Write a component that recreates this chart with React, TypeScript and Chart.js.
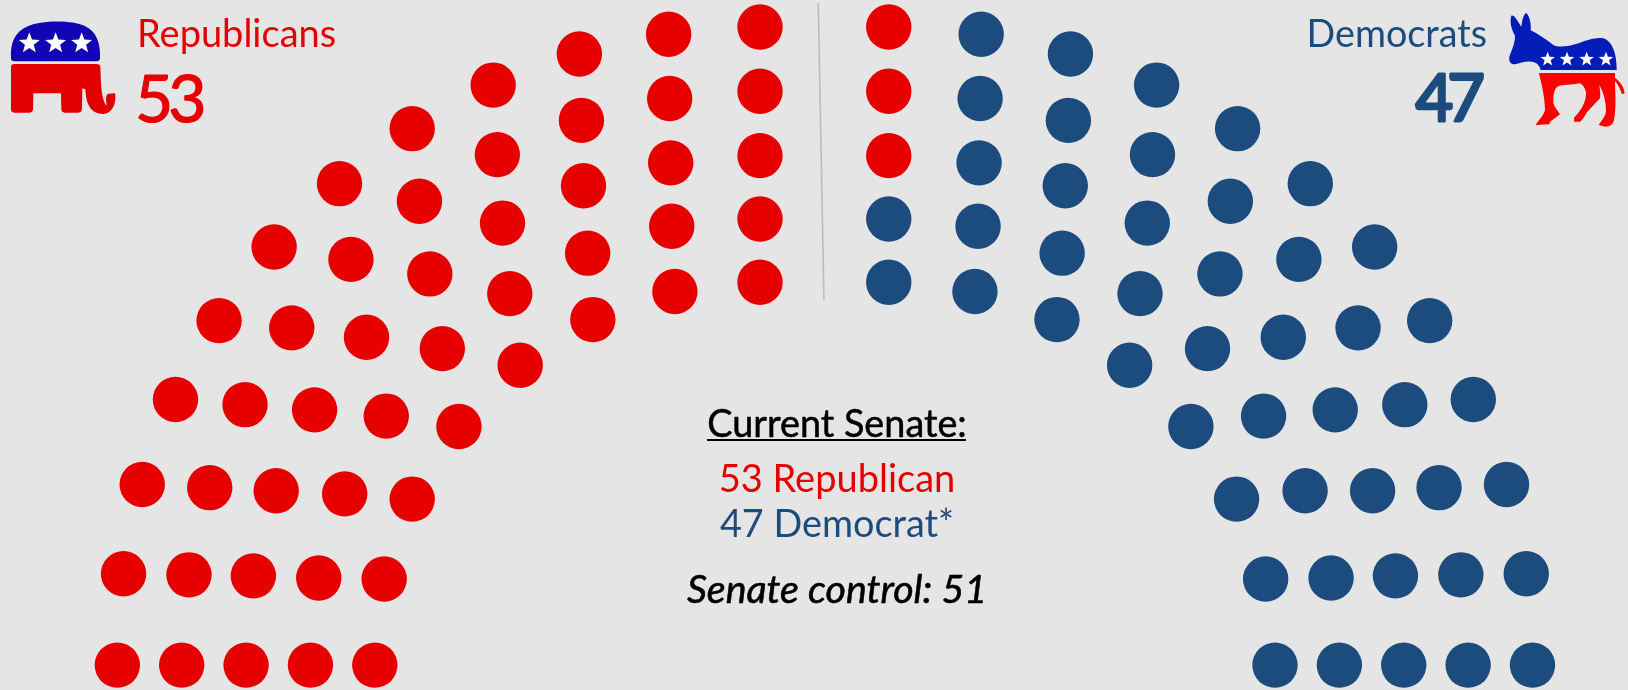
import React, { useEffect, useRef } from "react";
import { Chart, registerables } from "chart.js";

Chart.register(...registerables);

const BG = "#e5e5e5";
const RED = "#e60000";
const BLUE = "#1c4b7e";
const FONT = "Lato";

// Seat positions on the hemicycle plane, one list per arc (outer to inner)
const repArc1X = [113, 119, 137, 169, 211, 264, 327, 397, 475, 558, 644, 732, 856];
const repArc1Y = [641, 553, 467, 385, 309, 238, 177, 124, 82, 52, 33, 26, 26];
const repArc2X = [175, 182, 202, 236, 281, 338, 404, 479, 560, 645, 732, 856];
const repArc2Y = [641, 554, 470, 390, 316, 250, 194, 149, 116, 95, 88, 88];
const repArc3X = [237, 244, 266, 303, 353, 414, 484, 562, 646, 732, 856];
const repArc3Y = [641, 555, 473, 395, 325, 264, 215, 179, 157, 150, 150];
const repArc4X = [299, 307, 332, 372, 426, 491, 566, 647, 732];
const repArc4Y = [641, 557, 476, 401, 336, 283, 244, 218, 211];
const repArc5X = [361, 370, 397, 442, 501, 571, 650, 732];
const repArc5Y = [641, 558, 481, 411, 352, 308, 281, 272];

const demArc1X = [945, 1031, 1114, 1192, 1262, 1324, 1377, 1419, 1451, 1470, 1476];
const demArc1Y = [33, 52, 82, 124, 177, 238, 309, 385, 467, 553, 641];
const demArc2X = [944, 1029, 1110, 1185, 1251, 1308, 1353, 1386, 1407, 1414];
const demArc2Y = [95, 116, 149, 194, 250, 316, 390, 470, 554, 641];
const demArc3X = [943, 1026, 1105, 1175, 1236, 1286, 1322, 1344, 1352];
const demArc3Y = [157, 179, 215, 264, 325, 395, 473, 555, 641];
const demArc4X = [856, 942, 1023, 1098, 1163, 1217, 1257, 1282, 1290];
const demArc4Y = [211, 218, 244, 283, 336, 401, 473, 557, 641];
const demArc5X = [856, 939, 1018, 1088, 1147, 1191, 1219, 1228];
const demArc5Y = [272, 281, 308, 352, 411, 481, 558, 641];

const dividerX = [788.1, 793.6];
const dividerY = [2.9, 289];

const repXs = [repArc1X, repArc2X, repArc3X, repArc4X, repArc5X];
const repYs = [repArc1Y, repArc2Y, repArc3Y, repArc4Y, repArc5Y];
const demXs = [demArc1X, demArc2X, demArc3X, demArc4X, demArc5X];
const demYs = [demArc1Y, demArc2Y, demArc3Y, demArc4Y, demArc5Y];

const zip = (xs: number[][], ys: number[][]) =>
  xs.flatMap((a, i) => a.map((x, j) => ({ x, y: ys[i][j] })));

type Label = {
  text: string; x: number; y: number; size: number; color: string;
  italic?: boolean; align?: CanvasTextAlign; underline?: [number, number, number];
  spacing?: number; stroke?: number;
};

const labels: Label[] = [
  { text: "Republicans", x: 137, y: 47, size: 38, color: RED },
  { text: "53", x: 135, y: 122, size: 66, color: RED, spacing: -5, stroke: 1.2 },
  { text: "Democrats", x: 1487, y: 47, size: 37.7, color: BLUE, align: "right" },
  { text: "47", x: 1479, y: 121, size: 65, color: BLUE, align: "right", spacing: -6, stroke: 3 },
  { text: "Current Senate:", x: 837, y: 437, size: 37.8, color: "#000", align: "center", underline: [707, 966, 439], stroke: 0.5 },
  { text: "53 Republican", x: 837, y: 492, size: 38, color: RED, align: "center" },
  { text: "47 Democrat*", x: 837, y: 537, size: 37.8, color: BLUE, align: "center" },
  { text: "Senate control: 51", x: 837, y: 603, size: 39.3, color: "#000", align: "center", italic: true, stroke: 0.6 },
];

const textPlugin = {
  id: "senateText",
  afterDraw(chart: any) {
    const ctx = chart.ctx as CanvasRenderingContext2D;
    ctx.save();
    ctx.textBaseline = "alphabetic";
    for (const l of labels) {
      ctx.font = `${l.italic ? "italic " : ""}400 ${l.size}px ${FONT}`;
      ctx.fillStyle = l.color;
      ctx.strokeStyle = l.color;
      ctx.textAlign = l.align ?? "left";
      (ctx as any).letterSpacing = `${l.spacing ?? 0}px`;
      ctx.fillText(l.text, l.x, l.y);
      if (l.stroke) {
        ctx.lineWidth = l.stroke;
        ctx.lineJoin = "round";
        ctx.strokeText(l.text, l.x, l.y);
      }
      if (l.underline) {
        ctx.fillRect(l.underline[0], l.underline[2], l.underline[1] - l.underline[0], 2);
      }
    }
    ctx.restore();
  },
};

const star = (cx: number, cy: number, r: number) => {
  const pts: string[] = [];
  for (let i = 0; i < 10; i++) {
    const rad = i % 2 === 0 ? r : r * 0.42;
    const a = -Math.PI / 2 + (i * Math.PI) / 5;
    pts.push(`${(cx + rad * Math.cos(a)).toFixed(1)},${(cy + rad * Math.sin(a)).toFixed(1)}`);
  }
  return pts.join(" ");
};

const Elephant = () => (
  <svg width={360} height={140} viewBox="0 0 1080 420" style={{ position: "absolute", left: 0, top: 0 }}>
    <path
      d="M33 175 C30 130 45 95 80 80 C125 60 215 60 255 78 C290 95 302 130 300 175 Q300 184 290 184 L43 184 Q33 184 33 175 Z"
      fill="#1205b5"
    />
    {[88, 167, 245].map((x) => (
      <polygon key={x} points={star(x, 130, 33)} fill="#fff" />
    ))}
    <path
      d="M43 192 L290 192 Q300 192 301 200 L303 250 C305 285 312 312 320 316 C318 300 316 284 325 281 L345 280 C350 305 340 340 310 342 C270 342 258 310 256 268 L247 265 L246 328 Q245 338 235 338 L195 338 Q184 338 184 328 L183 280 L100 280 L99 328 Q98 338 88 338 L43 338 Q33 338 33 328 L33 202 Q33 192 43 192 Z"
      fill="#e00000"
    />
  </svg>
);

const Donkey = () => (
  <svg width={128} height={130} viewBox="0 0 384 390" style={{ position: "absolute", left: 1500, top: 5 }}>
    <path
      d="M45 92 C35 75 28 50 34 32 C42 28 55 50 64 66 C66 45 72 25 79 24 C90 35 94 60 92 76 C110 85 135 100 160 120 C175 128 200 125 225 118 C260 105 290 95 310 100 C335 108 350 140 350 195 L122 195 C118 180 110 172 95 170 C75 168 60 175 45 178 C32 178 26 170 28 155 C35 135 45 115 45 92 Z"
      fill="#041cb8"
    />
    {[143, 201, 260, 318].map((x) => (
      <polygon key={x} points={star(x, 163, 23)} fill="#fff" />
    ))}
    <path
      d="M117 204 L345 204 L345 218 C360 230 372 245 374 265 L366 268 C360 250 352 235 345 228 C345 265 350 300 342 345 C340 358 330 365 315 365 L296 360 C305 345 318 335 318 315 C318 290 310 260 298 240 C300 255 302 270 300 280 L262 320 C252 335 248 345 240 350 L222 350 L222 338 C240 320 258 295 258 265 C258 255 250 240 240 235 C215 240 190 238 172 245 C160 255 160 275 160 295 C165 310 175 320 180 328 L150 350 L148 358 L107 360 C115 345 130 335 135 315 C135 280 125 240 117 204 Z"
      fill="#ff0000"
    />
  </svg>
);

export default function App() {
  const ref = useRef<HTMLCanvasElement>(null);
  useEffect(() => {
    document.body.style.margin = "0";
    document.body.style.background = BG;
    const chart = new Chart(ref.current!, {
      type: "scatter",
      data: {
        datasets: [
          { label: "Divider", data: dividerX.map((x, i) => ({ x, y: dividerY[i] })), showLine: true, borderColor: "#bcbcbc", borderWidth: 1.6, pointRadius: 0 },
          { label: "Republicans", data: zip(repXs, repYs), backgroundColor: RED, borderWidth: 0, pointRadius: 22.7, pointHoverRadius: 22.7 },
          { label: "Democrats", data: zip(demXs, demYs), backgroundColor: BLUE, borderWidth: 0, pointRadius: 22.7, pointHoverRadius: 22.7 },
        ],
      },
      options: {
        animation: false,
        responsive: false,
        clip: false,
        layout: { padding: 0, autoPadding: false },
        plugins: { legend: { display: false }, tooltip: { enabled: false } },
        scales: {
          x: { type: "linear", display: false, min: 0, max: 1568 },
          y: { type: "linear", display: false, min: 0, max: 665, reverse: true },
        },
      } as any,
      plugins: [textPlugin],
    });
    return () => chart.destroy();
  }, []);
  return (
    <div style={{ position: "absolute", left: 0, top: 0, width: 1628, height: 690, background: BG, overflow: "hidden" }}>
      <canvas ref={ref} width={1628} height={690} style={{ display: "block" }} />
      <Elephant />
      <Donkey />
    </div>
  );
}
